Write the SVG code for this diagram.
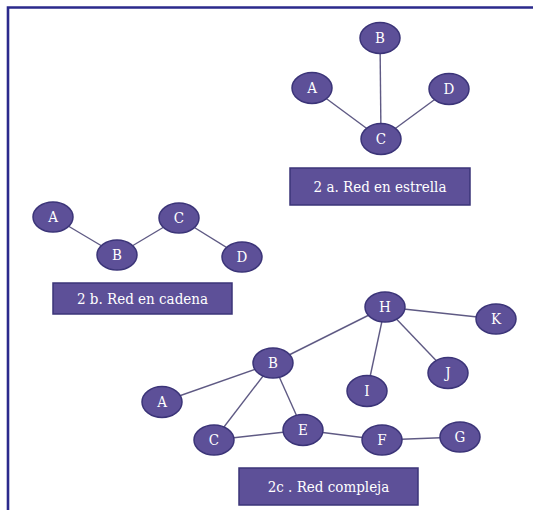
<svg xmlns="http://www.w3.org/2000/svg" width="533" height="510" viewBox="0 0 533 510">
  <style>
    .node ellipse { fill: #5d5098; stroke: #3b3478; stroke-width: 1.5; }
    .node text { fill: #ffffff; font-family: "DejaVu Serif Condensed", "DejaVu Serif", serif; font-size: 15px; text-anchor: middle; dominant-baseline: central; }
    .edges line { stroke: #5f5a84; stroke-width: 1.4; }
    .caption rect { fill: #5d5098; stroke: #3b3478; stroke-width: 1.5; }
    .caption text { fill: #ffffff; font-family: "DejaVu Serif Condensed", "DejaVu Serif", serif; font-size: 15px; text-anchor: middle; dominant-baseline: central; }
  </style>
  <rect width="533" height="510" fill="#ffffff"/>
  <!-- outer frame: top and left rules -->
  <path d="M8 520 V7.5 H540" fill="none" stroke="#2b2a8c" stroke-width="2.6"/>

  <g class="edges">
    <!-- star -->
    <line x1="312" y1="88" x2="381" y2="139"/>
    <line x1="380" y1="38" x2="381" y2="139"/>
    <line x1="449" y1="89" x2="381" y2="139"/>
    <!-- chain -->
    <line x1="53" y1="217" x2="117" y2="255"/>
    <line x1="117" y1="255" x2="179" y2="218"/>
    <line x1="179" y1="218" x2="242" y2="257"/>
    <!-- complex -->
    <line x1="385" y1="307" x2="273" y2="363"/>
    <line x1="385" y1="307" x2="496" y2="319"/>
    <line x1="385" y1="307" x2="367" y2="391"/>
    <line x1="385" y1="307" x2="448" y2="373"/>
    <line x1="273" y1="363" x2="162" y2="402"/>
    <line x1="273" y1="363" x2="214" y2="440"/>
    <line x1="273" y1="363" x2="303" y2="430"/>
    <line x1="214" y1="440" x2="303" y2="430"/>
    <line x1="303" y1="430" x2="382" y2="440"/>
    <line x1="382" y1="440" x2="460" y2="437"/>
  </g>

  <!-- star network -->
  <g id="star-B" class="node"><ellipse cx="380" cy="38" rx="20" ry="15.5"/><text x="380" y="38">B</text></g>
  <g id="star-A" class="node"><ellipse cx="312" cy="88" rx="20" ry="15.5"/><text x="312" y="88">A</text></g>
  <g id="star-D" class="node"><ellipse cx="449" cy="89" rx="20" ry="15.5"/><text x="449" y="89">D</text></g>
  <g id="star-C" class="node"><ellipse cx="381" cy="139" rx="20" ry="15.5"/><text x="381" y="139">C</text></g>
  <g id="caption-star" class="caption"><rect x="290" y="168" width="180" height="37"/><text x="380" y="186.5">2 a. Red en estrella</text></g>

  <!-- chain network -->
  <g id="chain-A" class="node"><ellipse cx="53" cy="217" rx="20" ry="15"/><text x="53" y="217">A</text></g>
  <g id="chain-B" class="node"><ellipse cx="117" cy="255" rx="20" ry="15"/><text x="117" y="255">B</text></g>
  <g id="chain-C" class="node"><ellipse cx="179" cy="218" rx="20" ry="15"/><text x="179" y="218">C</text></g>
  <g id="chain-D" class="node"><ellipse cx="242" cy="257" rx="20" ry="15"/><text x="242" y="257">D</text></g>
  <g id="caption-chain" class="caption"><rect x="53" y="283" width="179" height="31"/><text x="142.5" y="298.5">2 b. Red en cadena</text></g>

  <!-- complex network -->
  <g id="net-H" class="node"><ellipse cx="385" cy="307" rx="20" ry="15"/><text x="385" y="307">H</text></g>
  <g id="net-K" class="node"><ellipse cx="496" cy="319" rx="20" ry="15"/><text x="496" y="319">K</text></g>
  <g id="net-B" class="node"><ellipse cx="273" cy="363" rx="20" ry="15"/><text x="273" y="363">B</text></g>
  <g id="net-I" class="node"><ellipse cx="367" cy="391" rx="20" ry="15.5"/><text x="367" y="391">I</text></g>
  <g id="net-J" class="node"><ellipse cx="448" cy="373" rx="20" ry="15.5"/><text x="448" y="373">J</text></g>
  <g id="net-A" class="node"><ellipse cx="162" cy="402" rx="20" ry="15.5"/><text x="162" y="402">A</text></g>
  <g id="net-C" class="node"><ellipse cx="214" cy="440" rx="20" ry="15"/><text x="214" y="440">C</text></g>
  <g id="net-E" class="node"><ellipse cx="303" cy="430" rx="20" ry="15.5"/><text x="303" y="430">E</text></g>
  <g id="net-F" class="node"><ellipse cx="382" cy="440" rx="20" ry="15"/><text x="382" y="440">F</text></g>
  <g id="net-G" class="node"><ellipse cx="460" cy="437" rx="20" ry="15"/><text x="460" y="437">G</text></g>
  <g id="caption-complex" class="caption"><rect x="239" y="468" width="179" height="37"/><text x="328.5" y="487">2c . Red compleja</text></g>
</svg>
